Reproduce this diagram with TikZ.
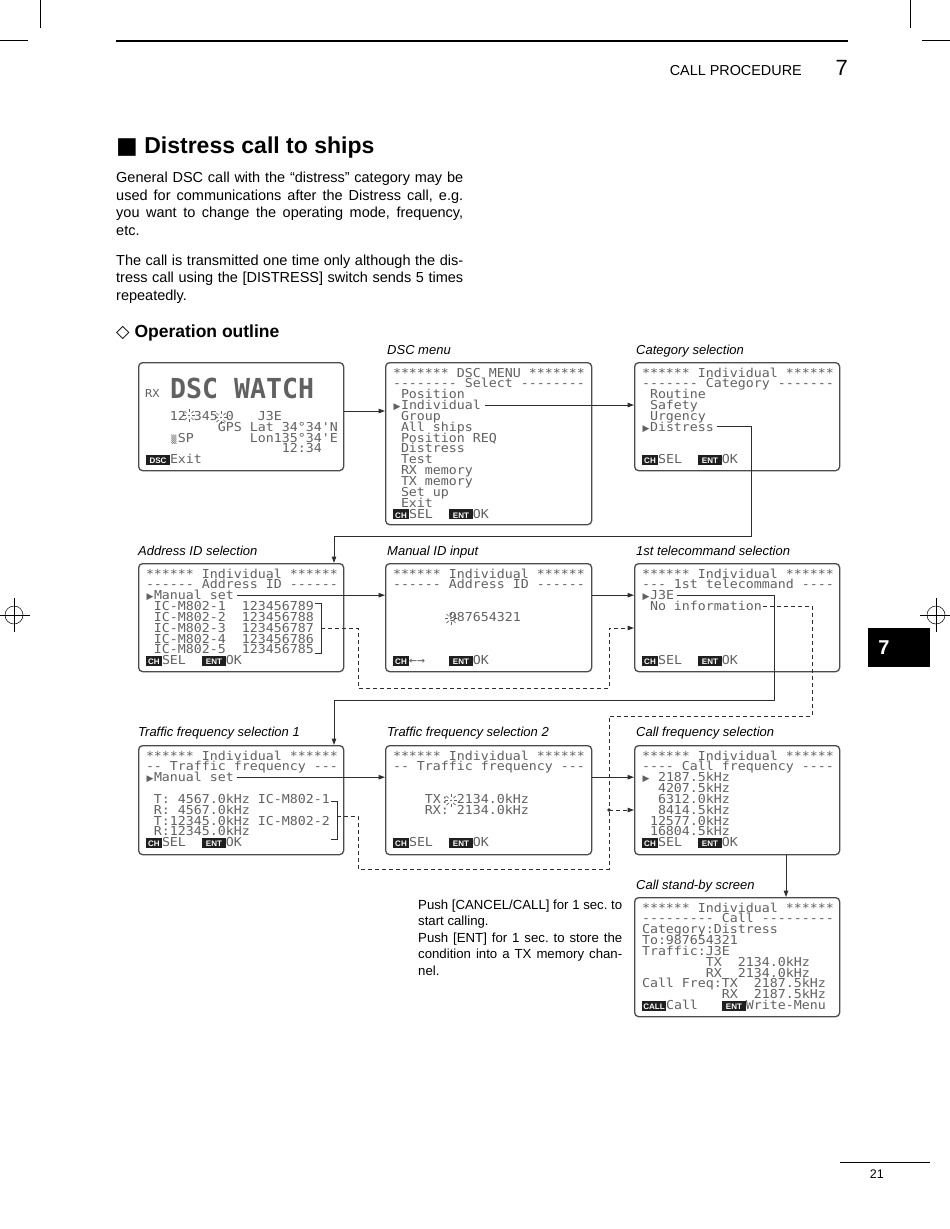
\documentclass[tikz,border=0pt]{standalone}
\usepackage{fontspec}
\usepackage{graphicx}
\setmainfont{Liberation Sans}
\setsansfont{Liberation Sans}
\setmonofont{DejaVu Sans Mono}[FakeStretch=1.08]
\newfontfamily\djv{DejaVu Sans}
\usetikzlibrary{arrows.meta}
\definecolor{lcd}{gray}{0.38}
\definecolor{keyc}{gray}{0.12}
\definecolor{frame}{gray}{0.3}
\definecolor{wire}{gray}{0.18}
\newlength\cw \setlength\cw{8pt}
\newcommand\kb[2]{{\setlength{\fboxsep}{0pt}\colorbox{keyc}{\makebox[#1\cw]{\rule[-1pt]{0pt}{10pt}\textcolor{white}{\sffamily\bfseries\fontsize{8}{8}\selectfont #2}}}}}
\newcommand\tri{\makebox[\cw][c]{\djv\fontsize{9}{9}\selectfont ▶}}
\newcommand\lcdicon{\makebox[\cw][c]{\fontsize{8}{8}\selectfont ▒}}
\newcommand\blink[2]{\begin{scope}[shift={(#1,#2)}]\fill[lcd] (0,0) circle (0.9);\foreach \a in {0,45,...,315}{\draw[lcd,line width=0.7pt] (\a:3.3) -- (\a:6.4);}\end{scope}}
\begin{document}
\begin{tikzpicture}[x=1pt,y=-1pt,
  screen/.style={draw=frame, line width=1.3pt, rounded corners=4pt, inner sep=0pt, anchor=north west},
  lcdline/.style={anchor=west, inner sep=0pt, outer sep=0pt, text height=9pt, text depth=0pt, text=lcd, font=\ttfamily\fontsize{12.3}{12.3}\selectfont},
  conn/.style={draw=wire, line width=1pt},
  dconn/.style={conn, dash pattern=on 4pt off 3pt},
  lab/.style={anchor=base west, inner sep=0pt, font=\itshape\fontsize{13}{13}\selectfont},
  body/.style={anchor=base west, inner sep=0pt, font=\frenchspacing\fontsize{14.5}{17.5}\selectfont},
  note/.style={anchor=base west, inner sep=0pt, font=\frenchspacing\fontsize{13.2}{16.5}\selectfont},
  >={Triangle[length=6.5pt,width=4.5pt]}]
\useasboundingbox (0,0) rectangle (950,1229);
\fill[white] (0,0) rectangle (950,1229);

% page furniture
\draw[line width=0.5pt] (0,40) -- (28,40);
\draw[line width=0.5pt] (40,0) -- (40,28);
\draw[line width=0.5pt] (922,40) -- (950,40);
\draw[line width=0.5pt] (910,0) -- (910,28);
\draw[line width=0.5pt] (14,615) circle (9);
\draw[line width=0.5pt] (0,615) -- (30,615);
\draw[line width=0.5pt] (14,598) -- (14,632);
\draw[line width=0.5pt] (936,615) circle (9);
\draw[line width=0.5pt] (920,615) -- (950,615);
\draw[line width=0.5pt] (936,598) -- (936,632);
\draw[line width=1.5pt] (116,41) -- (848,41);
\node[anchor=base east, inner sep=0pt, font=\fontsize{14.4}{14.4}\selectfont] (hdr) at (802,75) {CALL PROCEDURE};
\node[anchor=base east, inner sep=0pt, font=\fontsize{22}{22}\selectfont] (chap) at (848,75) {7};
\node[fill=black, minimum width=62pt, minimum height=39pt, anchor=north west, inner sep=0pt] (tab) at (868,628) {};
\node[text=white, inner sep=0pt, font=\bfseries\fontsize{20}{20}\selectfont] (tab7) at (884,648) {7};
\draw[line width=0.6pt] (840,1162) -- (930,1162);
\node[anchor=base east, inner sep=0pt, font=\fontsize{12.5}{12.5}\selectfont] (pg) at (884,1178) {21};

% title and text
\node[anchor=base west, inner sep=0pt, font=\bfseries\fontsize{23}{23}\selectfont] (title) at (116,153.3) {{\djv ■} Distress call to ships};
\node[body] (p1a) at (116,182.7) {\makebox[347pt][s]{General DSC call with the “distress” category may be}};
\node[body] (p1b) at (116,200.2) {\makebox[347pt][s]{used for communications after the Distress call, e.g.}};
\node[body] (p1c) at (116,217.7) {\makebox[347pt][s]{you want to change the operating mode, frequency,}};
\node[body] (p1d) at (116,235.2) {etc.};
\node[body] (p2a) at (116,265) {\makebox[347pt][s]{The call is transmitted one time only although the dis-}};
\node[body] (p2b) at (116,282.5) {\makebox[347pt][s]{tress call using the [DISTRESS] switch sends 5 times}};
\node[body] (p2c) at (116,300) {repeatedly.};
\node[anchor=base west, inner sep=0pt, font=\bfseries\fontsize{17.5}{17.5}\selectfont] (oo) at (116,337) {{\djv ◇} Operation outline};

\node[note] (n1) at (418,909) {\makebox[204pt][s]{Push [CANCEL/CALL] for 1 sec. to}};
\node[note] (n2) at (418,925.5) {start calling.};
\node[note] (n3) at (418,942) {\makebox[204pt][s]{Push [ENT] for 1 sec. to store the}};
\node[note] (n4) at (418,958.5) {\makebox[204pt][s]{condition into a TX memory chan-}};
\node[note] (n5) at (418,975) {nel.};

% labels
\node[lab] (lab2) at (387,354) {DSC menu};
\node[lab] (lab3) at (636,354) {Category selection};
\node[lab] (lab4) at (138,555) {Address ID selection};
\node[lab] (lab5) at (387,555) {Manual ID input};
\node[lab] (lab6) at (636,555) {1st telecommand selection};
\node[lab] (lab7) at (138,736) {Traffic frequency selection 1};
\node[lab] (lab8) at (387,736) {Traffic frequency selection 2};
\node[lab] (lab9) at (636,736) {Call frequency selection};
\node[lab] (lab10) at (636,889) {Call stand-by screen};

% screens
\node[screen, minimum width=205pt, minimum height=108pt] (s1) at (138,362) {};
\node[screen, minimum width=206pt, minimum height=162pt] (s2) at (385,362) {};
\node[screen, minimum width=205pt, minimum height=108pt] (s3) at (634,362) {};
\node[screen, minimum width=205pt, minimum height=108pt] (s4) at (138,563) {};
\node[screen, minimum width=206pt, minimum height=108pt] (s5) at (385,563) {};
\node[screen, minimum width=205pt, minimum height=108pt] (s6) at (634,563) {};
\node[screen, minimum width=205pt, minimum height=109pt] (s7) at (138,745) {};
\node[screen, minimum width=206pt, minimum height=109pt] (s8) at (385,745) {};
\node[screen, minimum width=205pt, minimum height=109pt] (s9) at (634,745) {};
\node[screen, minimum width=205pt, minimum height=119pt] (s10) at (634,897) {};

% S1 DSC WATCH
\begin{scope}[shift={(146,372.5)}]
\node[anchor=west, inner sep=0pt, text height=7.8pt, text depth=0pt, text=lcd, font=\ttfamily\fontsize{11}{11}\selectfont] (s1rx) at (-1,21.5) {RX};
\node[anchor=west, inner sep=0pt, text height=20pt, text depth=0pt, text=lcd, font=\ttfamily\bfseries\fontsize{24.6}{24.6}\selectfont] (s1big) at (24,16) {\scalebox{1}[1.12]{DSC~WATCH}};
\node[lcdline] (s1l4) at (0,43.4) {~~~12~345~0~~~J3E};
\node[lcdline] (s1l5) at (0,54.25) {~~~~~~~~~GPS~Lat~34°34'N};
\node[lcdline] (s1l6) at (0,65.1) {~~~\lcdicon SP~~~~~~~Lon135°34'E};
\node[lcdline] (s1l7) at (0,75.95) {~~~~~~~~~~~~~~~~~12:34};
\node[lcdline] (s1l8) at (0,86.8) {\kb{3}{DSC}Exit};
\blink{43}{43}
\blink{75}{45}
\end{scope}

% S2 DSC MENU
\begin{scope}[shift={(393,372.5)}]
\node[lcdline] (s2l0) at (0,0) {*******~DSC~MENU~*******};
\node[lcdline] (s2l1) at (0,10.85) {--------~Select~--------};
\node[lcdline] (s2l2) at (0,21.7) {~Position};
\node[lcdline] (s2l3) at (0,32.55) {\tri Individual};
\node[lcdline] (s2l4) at (0,43.4) {~Group};
\node[lcdline] (s2l5) at (0,54.25) {~All~ships};
\node[lcdline] (s2l6) at (0,65.1) {~Position~REQ};
\node[lcdline] (s2l7) at (0,75.95) {~Distress};
\node[lcdline] (s2l8) at (0,86.8) {~Test};
\node[lcdline] (s2l9) at (0,97.65) {~RX~memory};
\node[lcdline] (s2l10) at (0,108.5) {~TX~memory};
\node[lcdline] (s2l11) at (0,119.35) {~Set~up};
\node[lcdline] (s2l12) at (0,130.2) {~Exit};
\node[lcdline] (s2l13) at (0,141.05) {\kb{2}{CH}SEL~~\kb{3}{ENT}OK};
\end{scope}

% S3 Category
\begin{scope}[shift={(642,372.5)}]
\node[lcdline] (s3l0) at (0,0) {******~Individual~******};
\node[lcdline] (s3l1) at (0,10.85) {-------~Category~-------};
\node[lcdline] (s3l2) at (0,21.7) {~Routine};
\node[lcdline] (s3l3) at (0,32.55) {~Safety};
\node[lcdline] (s3l4) at (0,43.4) {~Urgency};
\node[lcdline] (s3l5) at (0,54.25) {\tri Distress};
\node[lcdline] (s3l8) at (0,86.8) {\kb{2}{CH}SEL~~\kb{3}{ENT}OK};
\end{scope}

% S4 Address ID
\begin{scope}[shift={(146,573.5)}]
\node[lcdline] (s4l0) at (0,0) {******~Individual~******};
\node[lcdline] (s4l1) at (0,10.85) {------~Address~ID~------};
\node[lcdline] (s4l2) at (0,21.7) {\tri Manual~set};
\node[lcdline] (s4l3) at (0,32.55) {~IC-M802-1~~123456789};
\node[lcdline] (s4l4) at (0,43.4) {~IC-M802-2~~123456788};
\node[lcdline] (s4l5) at (0,54.25) {~IC-M802-3~~123456787};
\node[lcdline] (s4l6) at (0,65.1) {~IC-M802-4~~123456786};
\node[lcdline] (s4l7) at (0,75.95) {~IC-M802-5~~123456785};
\node[lcdline] (s4l8) at (0,86.8) {\kb{2}{CH}SEL~~\kb{3}{ENT}OK};
\end{scope}

% S5 Manual ID
\begin{scope}[shift={(393,573.5)}]
\node[lcdline] (s5l0) at (0,0) {******~Individual~******};
\node[lcdline] (s5l1) at (0,10.85) {------~Address~ID~------};
\node[lcdline] (s5l4) at (0,43.4) {~~~~~~~987654321};
\node[lcdline] (s5l8) at (0,86.8) {\kb{2}{CH}←→~~~\kb{3}{ENT}OK};
\blink{58}{45}
\end{scope}

% S6 1st telecommand
\begin{scope}[shift={(642,573.5)}]
\node[lcdline] (s6l0) at (0,0) {******~Individual~******};
\node[lcdline] (s6l1) at (0,10.85) {---~1st~telecommand~----};
\node[lcdline] (s6l2) at (0,21.7) {\tri J3E};
\node[lcdline] (s6l3) at (0,32.55) {~No~information};
\node[lcdline] (s6l8) at (0,86.8) {\kb{2}{CH}SEL~~\kb{3}{ENT}OK};
\end{scope}

% S7 Traffic 1
\begin{scope}[shift={(146,755.5)}]
\node[lcdline] (s7l0) at (0,0) {******~Individual~******};
\node[lcdline] (s7l1) at (0,10.85) {--~Traffic~frequency~---};
\node[lcdline] (s7l2) at (0,21.7) {\tri Manual~set};
\node[lcdline] (s7l4) at (0,43.4) {~T:~4567.0kHz~IC-M802-1};
\node[lcdline] (s7l5) at (0,54.25) {~R:~4567.0kHz};
\node[lcdline] (s7l6) at (0,65.1) {~T:12345.0kHz~IC-M802-2};
\node[lcdline] (s7l7) at (0,75.95) {~R:12345.0kHz};
\node[lcdline] (s7l8) at (0,86.8) {\kb{2}{CH}SEL~~\kb{3}{ENT}OK};
\end{scope}

% S8 Traffic 2
\begin{scope}[shift={(393,755.5)}]
\node[lcdline] (s8l0) at (0,0) {******~Individual~******};
\node[lcdline] (s8l1) at (0,10.85) {--~Traffic~frequency~---};
\node[lcdline] (s8l4) at (0,43.4) {~~~~TX:~2134.0kHz};
\node[lcdline] (s8l5) at (0,54.25) {~~~~RX:~2134.0kHz};
\node[lcdline] (s8l8) at (0,86.8) {\kb{2}{CH}SEL~~\kb{3}{ENT}OK};
\blink{58}{45}
\end{scope}

% S9 Call frequency
\begin{scope}[shift={(642,755.5)}]
\node[lcdline] (s9l0) at (0,0) {******~Individual~******};
\node[lcdline] (s9l1) at (0,10.85) {----~Call~frequency~----};
\node[lcdline] (s9l2) at (0,21.7) {\tri~2187.5kHz};
\node[lcdline] (s9l3) at (0,32.55) {~~4207.5kHz};
\node[lcdline] (s9l4) at (0,43.4) {~~6312.0kHz};
\node[lcdline] (s9l5) at (0,54.25) {~~8414.5kHz};
\node[lcdline] (s9l6) at (0,65.1) {~12577.0kHz};
\node[lcdline] (s9l7) at (0,75.95) {~16804.5kHz};
\node[lcdline] (s9l8) at (0,86.8) {\kb{2}{CH}SEL~~\kb{3}{ENT}OK};
\end{scope}

% S10 Call stand-by
\begin{scope}[shift={(642,907.5)}]
\node[lcdline] (s10l0) at (0,0) {******~Individual~******};
\node[lcdline] (s10l1) at (0,10.85) {---------~Call~---------};
\node[lcdline] (s10l2) at (0,21.7) {Category:Distress};
\node[lcdline] (s10l3) at (0,32.55) {To:987654321};
\node[lcdline] (s10l4) at (0,43.4) {Traffic:J3E};
\node[lcdline] (s10l5) at (0,54.25) {~~~~~~~~TX~~2134.0kHz};
\node[lcdline] (s10l6) at (0,65.1) {~~~~~~~~RX~~2134.0kHz};
\node[lcdline] (s10l7) at (0,75.95) {Call~Freq:TX~~2187.5kHz};
\node[lcdline] (s10l8) at (0,86.8) {~~~~~~~~~~RX~~2187.5kHz};
\node[lcdline] (s10l9) at (0,97.65) {\kb{3}{CALL}Call~~~\kb{3}{ENT}Write-Menu};
\end{scope}

% brackets
\draw[conn] (315,603) -- (321,603) -- (321,653) -- (315,653);
\draw[conn] (331,801) -- (337,801) -- (337,839) -- (331,839);

% coordinates
\coordinate (ya) at (0,411);
\coordinate (k1) at (751,536);
\coordinate (k2) at (334,536);
\coordinate (b4) at (321,628);
\coordinate (d1) at (358,688);
\coordinate (d2) at (609,688);
\coordinate (j1) at (774,700);
\coordinate (j2) at (334,700);
\coordinate (m1) at (812,716);
\coordinate (m2) at (609,716);
\coordinate (jn) at (609,810);
\coordinate (b7) at (337,816);
\coordinate (e1) at (358,869);
\coordinate (e2) at (609,869);
\coordinate (v) at (786,0);

% connectors
\draw[conn,->] (s1.east |- ya) -- (s2.west |- ya);
\draw[conn,->] ([xshift=4pt]s2l3.east) -- (s2l3.east -| s3.west);
\draw[conn,->] ([xshift=3pt]s3l5.east) -| (k1) -- (k2) -- (k2 |- s4.north);
\draw[conn,->] ([xshift=3pt]s4l2.east) -- (s4l2.east -| s5.west);
\draw[conn,->] (s5.east |- s4l2) -- (s6.west |- s4l2);
\draw[dconn,->] (b4) -| (d1) -- (d2) |- (s6.west |- b4);
\draw[conn,->] ([xshift=3pt]s6l2.east) -| (j1) -- (j2) -- (j2 |- s7.north);
\draw[dconn] ([xshift=1pt]s6l3.east) -| (m1) -- (m2) -- (jn);
\draw[dconn] (b7) -| (e1) -- (e2) -- (jn);
\draw[dconn,->] (jn) -- (s9.west |- jn);
\fill[wire] (jn) circle (1.8);
\draw[conn,->] ([xshift=3pt]s7l2.east) -- (s7l2.east -| s8.west);
\draw[conn,->] (s8.east |- s7l2) -- (s9.west |- s7l2);
\draw[conn,->] (s9.south -| v) -- (s10.north -| v);
\end{tikzpicture}
\end{document}
